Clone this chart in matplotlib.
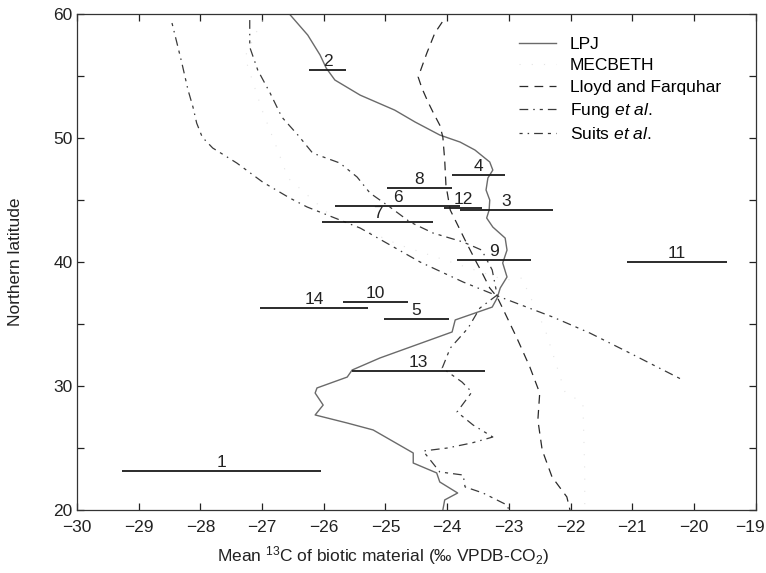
import matplotlib.pyplot as plt
from matplotlib.ticker import MultipleLocator, FuncFormatter

plt.rcParams['font.family'] = ['Liberation Sans', 'DejaVu Sans']
plt.rcParams['mathtext.fontset'] = 'custom'
plt.rcParams['mathtext.rm'] = 'Liberation Sans'
plt.rcParams['mathtext.it'] = 'Liberation Sans:italic'

# model curves: (delta13C, latitude)
lpj_d13c = [-26.55, -26.26, -26.06, -25.96, -25.82, -25.41, -24.85, -24.52, -24.12, -23.79,
            -23.55, -23.31, -23.26, -23.34, -23.37, -23.31, -23.32, -23.36, -23.26, -23.06,
            -23.03, -23.10, -23.03, -23.14, -23.19, -23.27, -23.87, -23.92, -25.09, -25.54,
            -25.62, -26.11, -26.14, -26.01, -26.14, -25.62, -25.20, -24.55, -24.55, -24.17,
            -24.12, -23.83, -24.04, -24.07]
lpj_lat = [60.0, 58.34, 56.73, 55.67, 54.71, 53.49, 52.28, 51.32, 50.27, 49.70,
           49.06, 48.09, 47.44, 46.80, 45.83, 45.02, 44.21, 43.57, 42.84, 41.95,
           40.98, 39.94, 38.81, 37.92, 37.11, 36.38, 35.34, 34.37, 32.27, 31.30,
           30.73, 29.85, 29.44, 28.47, 27.67, 27.02, 26.46, 24.60, 23.79, 22.99,
           22.26, 21.37, 20.81, 20.0]

mec_d13c = [-27.00, -27.28, -27.00, -26.76, -26.58, -25.90, -24.77, -23.79, -23.06, -22.79,
            -22.41, -22.09, -21.80, -21.77, -21.77]
mec_lat = [59.55, 56.56, 52.28, 49.22, 46.80, 43.81, 41.39, 39.77, 38.56, 38.72,
           34.53, 29.52, 28.64, 23.07, 20.0]

lf_d13c = [-24.08, -24.20, -24.33, -24.47, -24.41, -24.31, -24.23, -24.12, -24.07, -24.04,
           -24.02, -23.95, -23.87, -23.71, -23.52, -23.44, -23.31, -23.19, -23.11, -22.87,
           -22.66, -22.50, -22.53, -22.46, -22.30, -22.06, -22.01]
lf_lat = [59.39, 58.50, 56.88, 54.95, 54.06, 52.93, 52.12, 51.07, 50.10, 48.25,
          46.23, 44.21, 43.41, 41.79, 39.94, 39.21, 37.92, 37.19, 36.38, 33.88,
          31.54, 29.44, 27.26, 24.84, 22.66, 21.05, 20.0]

fung_d13c = [-27.20, -27.20, -27.07, -26.87, -26.68, -26.42, -26.18, -25.74, -25.46, -25.25,
             -24.93, -24.60, -24.23, -23.74, -23.44, -23.27, -23.19, -23.47, -23.66, -23.95,
             -24.08, -23.76, -23.60, -23.84, -23.58, -23.26, -23.60, -24.00, -24.39, -24.12,
             -23.74, -23.71, -23.42, -23.03, -23.00]
fung_lat = [59.55, 57.37, 55.51, 53.66, 51.72, 50.27, 48.81, 48.01, 46.88, 45.58,
            44.46, 43.24, 42.36, 41.63, 40.98, 39.37, 37.35, 36.30, 34.69, 33.07,
            31.46, 30.33, 29.52, 27.91, 26.86, 25.89, 25.41, 25.00, 24.76, 23.07,
            22.82, 21.86, 21.37, 20.40, 20.0]

suits_d13c = [-28.46, -28.38, -28.30, -28.20, -28.12, -28.06, -27.97, -27.80, -27.41, -26.99,
              -26.55, -26.27, -25.41, -24.44, -23.74, -23.14, -22.29, -21.69, -21.04, -20.18]
suits_lat = [59.31, 57.70, 56.08, 53.90, 52.53, 51.23, 50.10, 49.22, 48.01, 46.47,
             45.18, 44.46, 42.76, 40.02, 38.40, 37.19, 35.58, 34.29, 32.67, 30.49]

# site observations: number, latitude, range of delta13C
site_ids = [1, 2, 3, 4, 5, 6, 7, 8, 9, 10, 11, 12, 13, 14]
site_lat = [23.15, 55.51, 44.21, 47.04, 35.42, 44.54, 43.24, 45.99, 40.18, 36.79, 40.02, 44.40, 31.22, 36.30]
site_lo = [-29.27, -26.24, -23.79, -23.92, -25.02, -25.82, -26.03, -24.98, -23.84, -25.69, -21.09, -24.05, -25.54, -27.03]
site_hi = [-26.05, -25.64, -22.29, -23.06, -23.97, -23.79, -24.23, -23.92, -22.64, -24.64, -19.47, -23.43, -23.39, -25.28]

x_min, x_max = -30, -19

fig = plt.figure(figsize=(7.66, 5.73), dpi=100)
ax = fig.add_axes([0.1005, 0.110, 0.886, 0.8647])

ax.plot(lpj_d13c, lpj_lat, color='#6a6a6a', lw=1.0, label='LPJ')
ax.plot(mec_d13c, mec_lat, color='#e4e4e4', lw=0.8, linestyle=(0, (1, 10)), label='MECBETH')
ax.plot(lf_d13c, lf_lat, color='#2a2a2a', lw=0.9, linestyle=(0, (7, 5)), label='Lloyd and Farquhar')
ax.plot(fung_d13c, fung_lat, color='#3a3a3a', lw=0.9, linestyle=(0, (7, 4, 1.2, 4, 2.5, 4)),
        label='Fung $\\mathit{et\\ al.}$')
ax.plot(suits_d13c, suits_lat, color='#3a3a3a', lw=0.9, linestyle=(0, (2.5, 4, 1.2, 4, 7, 4)),
        label='Suits $\\mathit{et\\ al.}$')

for sid, lat, lo, hi in zip(site_ids, site_lat, site_lo, site_hi):
    ax.hlines(lat, lo, hi, color='#1a1a1a', lw=1.3)
    ax.annotate(str(sid), ((lo + hi) / 2, lat), xytext=(0, 0.5), textcoords='offset points',
                ha='center', va='bottom', fontsize=12.5, color='#222222')

ax.set_xlim(x_min, x_max)
ax.set_ylim(20, 60)
ax.xaxis.set_major_locator(MultipleLocator(1))
ax.yaxis.set_major_locator(MultipleLocator(10))
ax.yaxis.set_minor_locator(MultipleLocator(5))
# the last x label sits on the figure edge, so it is drawn separately, nudged left
ax.xaxis.set_major_formatter(FuncFormatter(
    lambda v, pos: '' if round(v) == x_max else f'{int(round(v))}'.replace('-', '\u2212')))
ax.tick_params(which='both', direction='in', top=True, right=True, length=5, width=0.9,
               labelsize=12.5, pad=3, colors='#222222')
ax.tick_params(axis='x', pad=7)
ax.annotate(f'{x_max}'.replace('-', '\u2212'), (x_max, 20), xytext=(-4, -7),
            textcoords='offset points', ha='center', va='top', fontsize=12.5,
            color='#222222', annotation_clip=False)
for sp in ax.spines.values():
    sp.set_linewidth(0.9)
    sp.set_color('#333333')

ax.set_xlabel('Mean $^{13}$C of biotic material (‰ VPDB-CO$_2$)', fontsize=12.5, color='#222222')
ax.xaxis.set_label_coords(0.451, -0.068)
ax.set_ylabel('Northern latitude', fontsize=12.5, color='#222222')
ax.yaxis.set_label_coords(-0.079, 0.5)

ax.legend(loc='upper left', bbox_to_anchor=(0.652, 0.955), frameon=False, fontsize=12.5,
          borderpad=0, borderaxespad=0, handlelength=2.1, handletextpad=0.8, labelspacing=0.36)

fig.savefig('out.png', dpi=100)
